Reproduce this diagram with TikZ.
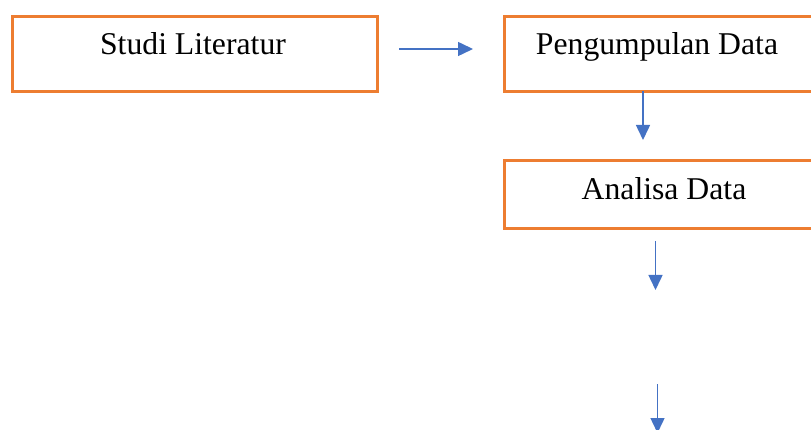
\documentclass[tikz,border=0pt]{standalone}
\usepackage{fontspec}
\setmainfont{Liberation Serif}
\usetikzlibrary{arrows.meta}
\definecolor{boxorange}{HTML}{ED7D31}
\definecolor{arrowblue}{HTML}{4472C4}
\begin{document}
\begin{tikzpicture}[x=1pt,y=-1pt,
  box/.style={draw=boxorange,line width=3pt,rectangle,inner sep=0pt,anchor=north west},
  lbl/.style={anchor=base,inner sep=0pt,font=\fontsize{31.7}{38}\selectfont},
  flow/.style={draw=arrowblue,line width=1.5pt,-{Triangle[length=15pt,width=14pt]}}]
\useasboundingbox (0,0) rectangle (811,430);
\clip (0,0) rectangle (811,430);
\node[box,minimum width=365pt,minimum height=75pt] (studi) at (11,15) {};
\node[box,minimum width=320pt,minimum height=75pt] (kumpul) at (503,15) {};
\node[box,minimum width=320pt,minimum height=68pt] (analisa) at (503,159) {};
\node[lbl] (tstudi) at (193,55) {Studi Literatur};
\node[lbl] (tkumpul) at (657,55) {Pengumpulan Data};
\node[lbl] (tanalisa) at (664,200) {Analisa Data};
\coordinate (a1s) at (399,49);
\coordinate (a1e) at (473,49);
\coordinate (a2s) at (643,91.5);
\coordinate (a2e) at (643,140);
\coordinate (a3s) at (655.5,241);
\coordinate (a3e) at (655.5,290);
\coordinate (a4s) at (657.5,384);
\coordinate (a4e) at (657.5,433);
\draw[flow] (a1s) -- (a1e);
\draw[flow] (a2s) -- (a2e);
\draw[flow] (a3s) -- (a3e);
\draw[flow] (a4s) -- (a4e);
\end{tikzpicture}
\end{document}
